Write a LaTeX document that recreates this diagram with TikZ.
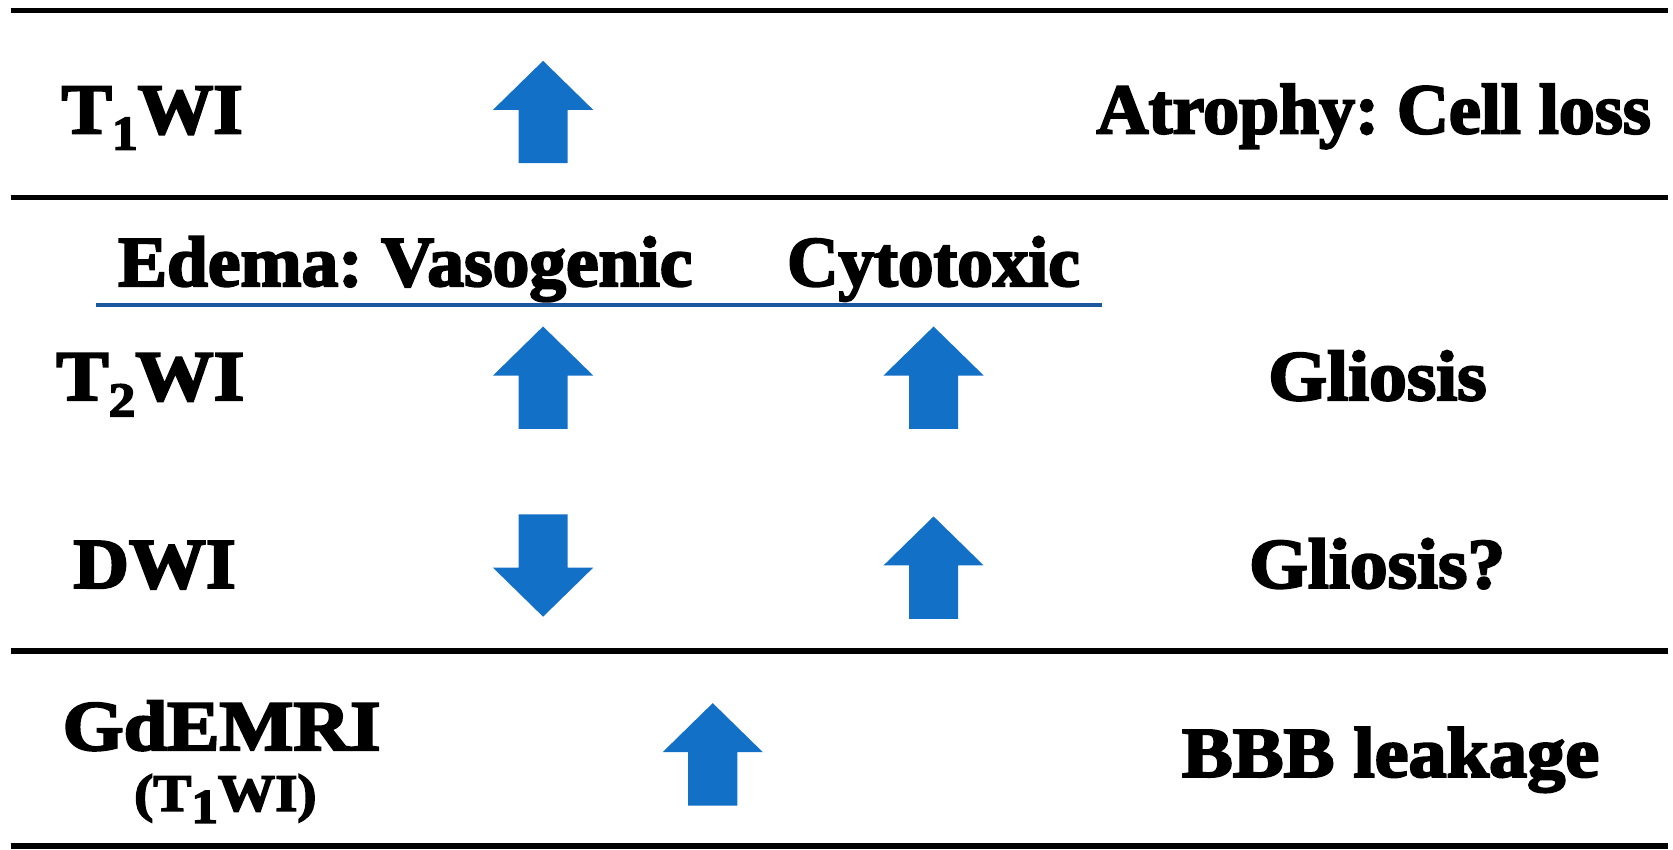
\documentclass[tikz,border=0pt]{standalone}
\usepackage{fontspec}
\newfontfamily\fatface{Liberation Serif}[FakeBold=3]
\definecolor{arrowblue}{RGB}{19,112,199}
\definecolor{ruleblue}{RGB}{28,88,160}
\newcommand{\lowsub}[1]{\raisebox{-0.5ex}{\fontsize{13}{13}\selectfont #1}}
\frenchspacing
\tikzset{
  lbl/.style={font=\fatface\bfseries\fontsize{19}{19}\selectfont, inner sep=0pt, anchor=base west, transform shape},
  rowline/.style={line width=1.5pt},
  uparrow/.pic={\fill[arrowblue] (-47,0) -- (0,-46) -- (47,0) -- (23,0) -- (23,50) -- (-23,50) -- (-23,0) -- cycle;}
}
\begin{document}
\begin{tikzpicture}[x=0.1mm, y=-0.1mm]
        \useasboundingbox (0,0) rectangle (1568,796);
        % rules
        \draw[rowline] (10,10) -- (1563,10);
        \draw[rowline] (10,185) -- (1563,185);
        \draw[rowline] (10,610) -- (1563,610);
        \draw[rowline] (10,793) -- (1563,793);
        \draw[ruleblue, line width=1pt] (90,286) -- (1033,286);

        % T1WI row
        \node[lbl, xscale=1.06] (t1wi) at (57,125) {T\lowsub{1}WI};
        \node[lbl, xscale=1.01] (atrophy) at (1027,125) {Atrophy: Cell loss};
        \pic at (509,103) {uparrow};

        % edema header
        \node[lbl, xscale=1.03] (edema) at (110,268) {Edema: Vasogenic};
        \node[lbl] (cytotoxic) at (737,268) {Cytotoxic};

        % T2WI row
        \node[lbl, xscale=1.1] (t2wi) at (52,375) {T\lowsub{2}WI};
        \node[lbl, xscale=1.06] (gliosis) at (1188,375) {Gliosis};
        \pic at (509,352) {uparrow};
        \pic at (875,352) {uparrow};

        % DWI row
        \node[lbl, xscale=1.08] (dwi) at (68,551) {DWI};
        \node[lbl, xscale=1.06] (gliosisq) at (1170,551) {Gliosis?};
        \pic[rotate=180] at (509,532) {uparrow};
        \pic at (875,530) {uparrow};

        % GdEMRI row
        \node[lbl, xscale=1.1] (gdemri) at (58,703) {GdEMRI};
        \node[lbl, xscale=1.09, font=\fatface\bfseries\fontsize{14}{14}\selectfont] (gdt1) at (125,760) {(T\lowsub{1}WI)};
        \node[lbl, xscale=1.07] (bbb) at (1107,728) {BBB leakage};
        \pic at (668,705) {uparrow};
    \end{tikzpicture}
\end{document}
